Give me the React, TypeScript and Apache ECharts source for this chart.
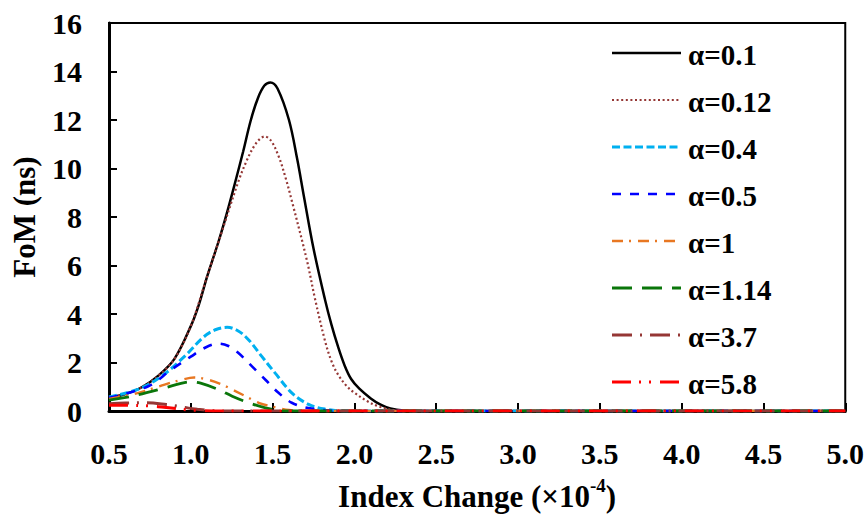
import React, { useEffect, useRef } from "react";
import * as echarts from "echarts";

// [index change (×10^-4), FoM (ns)]
const alpha01: number[][] = [
  [0.5, 0.54], [0.6, 0.7], [0.7, 0.98], [0.8, 1.45], [0.9, 2.15], [1.0, 3.5], [1.05, 4.4],
  [1.1, 5.55], [1.17, 7.0], [1.22, 8.15], [1.27, 9.4], [1.32, 10.7], [1.365, 11.95], [1.41, 12.9],
  [1.45, 13.42], [1.486, 13.55], [1.53, 13.3], [1.6, 12.0], [1.65, 10.4], [1.69, 8.9], [1.75, 6.7],
  [1.82, 4.6], [1.86, 3.55], [1.9, 2.65], [1.94, 1.88], [1.98, 1.32], [2.03, 0.92], [2.1, 0.52],
  [2.16, 0.26], [2.22, 0.1], [2.3, 0.02], [2.45, 0], [5.0, 0],
];
const alpha012: number[][] = [
  [0.5, 0.54], [0.6, 0.7], [0.7, 0.98], [0.8, 1.45], [0.9, 2.15], [1.0, 3.5], [1.09, 5.35],
  [1.19, 7.4], [1.29, 9.45], [1.34, 10.3], [1.385, 10.9], [1.42, 11.2], [1.451, 11.32], [1.49, 11.15],
  [1.537, 10.5], [1.58, 9.6], [1.62, 8.6], [1.71, 6.2], [1.76, 4.6], [1.82, 2.9], [1.86, 2.05],
  [1.9, 1.5], [1.95, 1.05], [2.0, 0.75], [2.08, 0.4], [2.144, 0.2], [2.25, 0.03], [2.4, 0], [5.0, 0],
];
const alpha04: number[][] = [
  [0.5, 0.58], [0.68, 0.9], [0.82, 1.43], [0.96, 2.24], [1.08, 3.06], [1.15, 3.35], [1.222, 3.45],
  [1.29, 3.3], [1.354, 2.93], [1.435, 2.24], [1.516, 1.56], [1.617, 0.75], [1.72, 0.27], [1.82, 0.08],
  [1.95, 0], [5.0, 0],
];
const alpha05: number[][] = [
  [0.5, 0.55], [0.74, 1.02], [0.88, 1.7], [1.0, 2.24], [1.09, 2.62], [1.17, 2.78], [1.23, 2.68],
  [1.293, 2.38], [1.374, 1.84], [1.456, 1.29], [1.536, 0.75], [1.617, 0.34], [1.72, 0.12], [1.85, 0.02],
  [1.95, 0], [5.0, 0],
];
const alpha1: number[][] = [
  [0.5, 0.5], [0.68, 0.75], [0.84, 1.09], [0.95, 1.3], [1.02, 1.38], [1.1, 1.3], [1.19, 1.09],
  [1.334, 0.61], [1.415, 0.34], [1.5, 0.18], [1.6, 0.04], [1.7, 0], [5.0, 0],
];
const alpha114: number[][] = [
  [0.5, 0.45], [0.64, 0.61], [0.84, 0.95], [0.94, 1.14], [1.0, 1.2], [1.06, 1.15], [1.17, 0.88],
  [1.253, 0.61], [1.354, 0.34], [1.456, 0.13], [1.58, 0], [5.0, 0],
];
const alpha37: number[][] = [
  [0.5, 0.3], [0.6, 0.33], [0.73, 0.34], [0.85, 0.27], [0.92, 0.2], [1.04, 0.07], [1.19, 0], [5.0, 0],
];
const alpha58: number[][] = [
  [0.5, 0.24], [0.68, 0.23], [0.8, 0.18], [0.88, 0.12], [0.98, 0.05], [1.08, 0.01], [1.2, 0], [5.0, 0],
];

const seriesNames = ["α=0.1", "α=0.12", "α=0.4", "α=0.5", "α=1", "α=1.14", "α=3.7", "α=5.8"];
const seriesData = [alpha01, alpha012, alpha04, alpha05, alpha1, alpha114, alpha37, alpha58];
const seriesColors = ["#000000", "#953735", "#00B0F0", "#0000FF", "#E87722", "#0A760A", "#953735", "#FF0000"];
const seriesWidths = [2.5, 2.2, 3, 2.6, 2.4, 2.8, 3, 3];
const seriesDash: (number[] | null)[] = [
  null,
  [2, 2.6],
  [8, 3.5],
  [9, 9],
  [11, 6, 2, 7],
  [20, 10],
  [20, 8, 2, 8],
  [19, 8, 2, 8, 2, 9],
];

const xMin = 0.5;
const xMax = 5.0;
const xStep = 0.5;
const yMin = 0;
const yMax = 16;
const yStep = 2;

const FONT = "'Liberation Serif', 'Times New Roman', serif";

export default function App() {
  const ref = useRef<HTMLDivElement>(null);
  useEffect(() => {
    if (!ref.current) return;
    const chart = echarts.init(ref.current, undefined, { renderer: "svg" });

    const legendLeft = 612;
    const legendTop = 53;
    const legendStep = 47;
    const legendLen = 69;
    const legendGraphics: any[] = [];
    seriesNames.forEach((name, i) => {
      const y = legendTop + legendStep * i;
      legendGraphics.push({
        type: "line",
        shape: { x1: legendLeft, y1: y, x2: legendLeft + legendLen, y2: y },
        style: {
          stroke: seriesColors[i],
          lineWidth: seriesWidths[i],
          lineDash: seriesDash[i] || undefined,
        },
        silent: true,
      });
      legendGraphics.push({
        type: "text",
        x: legendLeft + legendLen + 7,
        y: y + 2,
        style: {
          text: name,
          fontFamily: FONT,
          fontWeight: "bold",
          fontSize: 29,
          fill: "#000",
          verticalAlign: "middle",
          align: "left",
        },
        silent: true,
      });
    });

    chart.setOption({
      animation: false,
      backgroundColor: "#ffffff",
      grid: {
        left: 109,
        right: 20,
        top: 23,
        bottom: 102,
        show: true,
        borderColor: "#000",
        borderWidth: 2,
        backgroundColor: "transparent",
      },
      graphic: legendGraphics,
      xAxis: {
        type: "value",
        min: xMin,
        max: xMax,
        interval: xStep,
        name: "{a|Index Change (×10}{s|-4}{a|)}",
        nameLocation: "middle",
        nameGap: 65,
        nameTextStyle: {
          rich: {
            a: { fontFamily: FONT, fontWeight: "bold", fontSize: 31, color: "#000", lineHeight: 36, verticalAlign: "bottom" },
            s: { fontFamily: FONT, fontWeight: "bold", fontSize: 19, color: "#000", lineHeight: 36, verticalAlign: "top", padding: [0, 0, 14, 0] },
          },
        },
        axisLine: { show: true, lineStyle: { color: "#000", width: 3 } },
        axisTick: { show: true, inside: true, length: 8, lineStyle: { color: "#000", width: 2 } },
        axisLabel: {
          margin: 27,
          fontFamily: FONT,
          fontWeight: "bold",
          fontSize: 30,
          color: "#000",
          formatter: (v: number) => v.toFixed(1),
        },
        splitLine: { show: false },
      },
      yAxis: {
        type: "value",
        min: yMin,
        max: yMax,
        interval: yStep,
        name: "FoM (ns)",
        nameLocation: "middle",
        nameGap: 69,
        nameTextStyle: { fontFamily: FONT, fontWeight: "bold", fontSize: 31, color: "#000" },
        axisLine: { show: true, lineStyle: { color: "#000", width: 3 } },
        axisTick: { show: true, inside: true, length: 8, lineStyle: { color: "#000", width: 2 } },
        axisLabel: {
          margin: 27,
          fontFamily: FONT,
          fontWeight: "bold",
          fontSize: 30,
          color: "#000",
        },
        splitLine: { show: false },
      },
      series: seriesNames.map((name, i) => ({
        name,
        type: "line",
        data: seriesData[i],
        symbol: "none",
        smooth: 0.35,
        color: seriesColors[i],
        lineStyle: { color: seriesColors[i], width: seriesWidths[i], type: seriesDash[i] || "solid" },
        z: 2 + i,
      })),
    });
    return () => chart.dispose();
  }, []);
  return (
    <div
      ref={ref}
      style={{ position: "fixed", left: 0, top: 0, width: 867, height: 517 }}
    />
  );
}
